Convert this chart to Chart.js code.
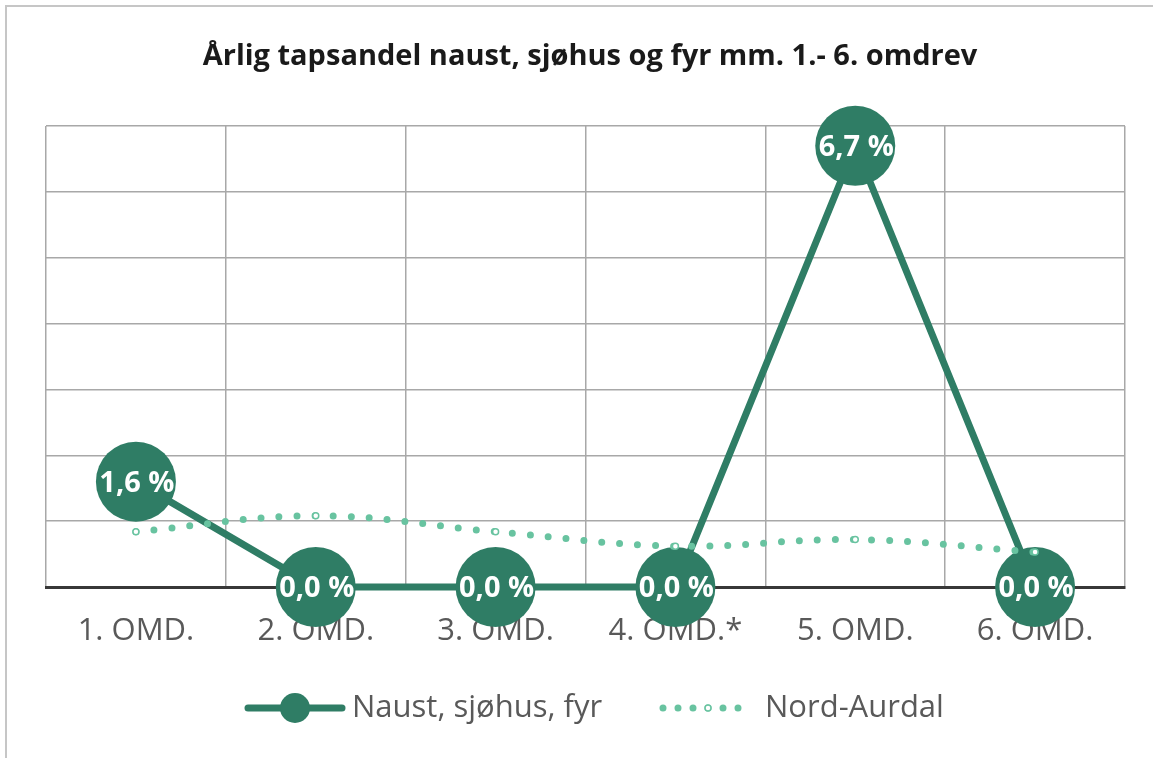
<!DOCTYPE html>
<html>
<head>
<meta charset="utf-8">
<script src="https://cdn.jsdelivr.net/npm/chart.js@4"></script>
<style>
  html, body { margin: 0; padding: 0; background: #fff; }
  #wrap { position: relative; width: 1153px; height: 758px; }
</style>
</head>
<body>
<div id="wrap"><canvas id="chart" width="1153" height="758"></canvas></div>
<script>
const categories = ['1. OMD.', '2. OMD.', '3. OMD.', '4. OMD.*', '5. OMD.', '6. OMD.'];
const naustValues = [1.6, 0.0, 0.0, 0.0, 6.7, 0.0];
const nordAurdalValues = [0.84, 1.08, 0.84, 0.62, 0.72, 0.53];
const seriesNames = ['Naust, sjøhus, fyr', 'Nord-Aurdal'];
const titleText = 'Årlig tapsandel naust, sjøhus og fyr mm. 1.- 6. omdrev';

const darkGreen = '#2f7d65';
const lightGreen = '#68c3a0';
const textGrey = '#595959';

// formats 1.6 -> "1,6 %"
function pct(v) {
    return v.toFixed(1).replace('.', ',') + ' %';
}

// frame, title and legend are painted straight onto the canvas
const decorations = {
    id: 'decorations',
    beforeDraw(chart) {
        const ctx = chart.ctx;
        ctx.save();
        ctx.fillStyle = '#fff';
        ctx.fillRect(0, 0, chart.width, chart.height);
        ctx.strokeStyle = '#c6c6c6';
        ctx.lineWidth = 2;
        ctx.beginPath();
        ctx.moveTo(6, chart.height + 5);
        ctx.lineTo(6, 6);
        ctx.lineTo(chart.width + 5, 6);
        ctx.stroke();
        ctx.restore();
    },
    afterDraw(chart) {
        const ctx = chart.ctx;
        ctx.save();
        ctx.fillStyle = '#1a1a1a';
        ctx.font = 'bold 29px "Open Sans"';
        ctx.textAlign = 'center';
        ctx.textBaseline = 'middle';
        ctx.fillText(titleText, 590, 57);

        // legend
        const ly = 708;
        ctx.strokeStyle = darkGreen;
        ctx.lineWidth = 7;
        ctx.lineCap = 'round';
        ctx.beginPath();
        ctx.moveTo(248, ly);
        ctx.lineTo(342, ly);
        ctx.stroke();
        ctx.fillStyle = darkGreen;
        ctx.beginPath();
        ctx.arc(295, ly, 15, 0, Math.PI * 2);
        ctx.fill();

        ctx.strokeStyle = lightGreen;
        ctx.lineWidth = 7;
        ctx.setLineDash([0, 15]);
        ctx.beginPath();
        ctx.moveTo(663, ly);
        ctx.lineTo(753, ly);
        ctx.stroke();
        ctx.setLineDash([]);
        ctx.lineWidth = 1.5;
        ctx.fillStyle = '#fff';
        ctx.beginPath();
        ctx.arc(708, ly, 3, 0, Math.PI * 2);
        ctx.fill();
        ctx.stroke();

        ctx.fillStyle = textGrey;
        ctx.font = '31px "Open Sans"';
        ctx.textAlign = 'left';
        ctx.fillText(seriesNames[0], 352, ly);
        ctx.fillText(seriesNames[1], 765, ly);
        ctx.restore();
    },
    afterDatasetsDraw(chart) {
        // value labels inside the big markers
        const ctx = chart.ctx;
        const meta = chart.getDatasetMeta(1);
        ctx.save();
        ctx.fillStyle = '#fff';
        ctx.font = 'bold 29px "Open Sans"';
        ctx.textAlign = 'center';
        ctx.textBaseline = 'middle';
        meta.data.forEach((pt, i) => {
            ctx.fillText(pct(naustValues[i]), pt.x + 1, pt.y + 2);
        });
        ctx.restore();
    }
};

new Chart(document.getElementById('chart'), {
    type: 'line',
    data: {
        labels: categories,
        datasets: [{
            label: seriesNames[1],
            data: nordAurdalValues,
            order: 0,
            borderColor: lightGreen,
            borderWidth: 7,
            borderDash: [0, 18],
            borderCapStyle: 'round',
            tension: 0.4,
            pointRadius: 3,
            pointBorderWidth: 1.5,
            pointBackgroundColor: '#fff',
            pointBorderColor: lightGreen,
            clip: false
        }, {
            label: seriesNames[0],
            data: naustValues,
            order: 1,
            borderColor: darkGreen,
            borderWidth: 7,
            tension: 0,
            pointRadius: 40,
            pointBackgroundColor: darkGreen,
            pointBorderColor: darkGreen,
            pointBorderWidth: 0,
            clip: false
        }]
    },
    options: {
        responsive: false,
        animation: false,
        events: [],
        layout: {
            // big markers would otherwise push the plot edges inward
            autoPadding: false,
            padding: { left: 46, right: 28, top: 126, bottom: 111 }
        },
        plugins: {
            legend: { display: false },
            title: { display: false },
            tooltip: { enabled: false }
        },
        scales: {
            x: {
                offset: true,
                grid: { offset: true, color: '#a8a8a8', lineWidth: 1.5, drawTicks: false },
                border: { color: '#383838', width: 3 },
                ticks: { color: textGrey, font: { family: 'Open Sans', size: 31 }, padding: 26 },
                afterFit(scale) {
                    scale.height = 60;
                    scale.paddingLeft = 0;
                    scale.paddingRight = 0;
                }
            },
            y: {
                min: 0,
                max: 7,
                ticks: { display: false, stepSize: 1 },
                grid: { color: '#a8a8a8', lineWidth: 1.5, drawTicks: false },
                border: { display: false },
                afterFit(scale) { scale.width = 0; }
            }
        }
    },
    plugins: [decorations]
});
</script>
</body>
</html>
